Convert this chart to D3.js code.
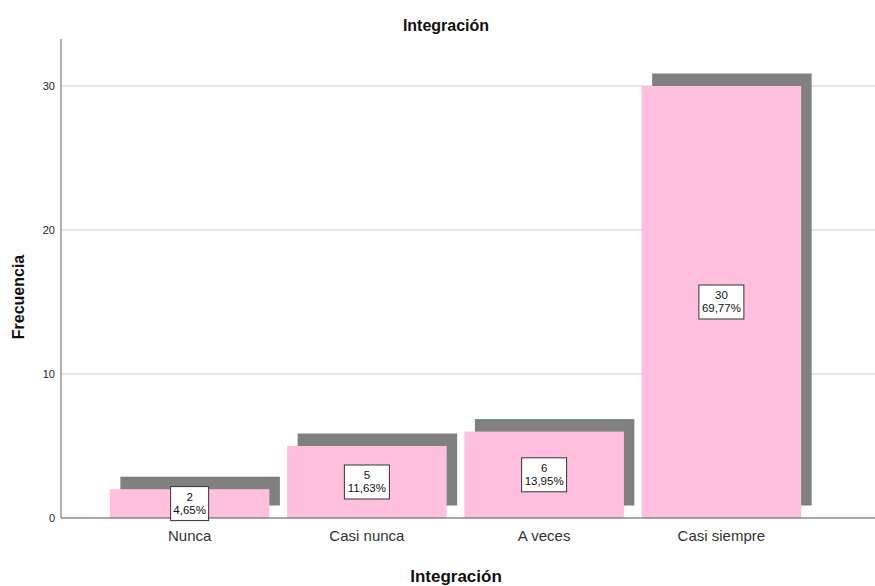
<!DOCTYPE html>
<html>
<head>
<meta charset="utf-8">
<script src="https://cdn.jsdelivr.net/npm/d3@7"></script>
<style>
  html, body { margin: 0; padding: 0; background: #fff; }
  svg { display: block; font-family: "Liberation Sans", Arial, sans-serif; }
</style>
</head>
<body>
<svg id="chart" width="875" height="586"></svg>
<script>
// Frequency of responses for "Integración"
const categories = ["Nunca", "Casi nunca", "A veces", "Casi siempre"];
const counts = [2, 5, 6, 30];
const percentLabels = ["4,65%", "11,63%", "13,95%", "69,77%"];
const yTicks = [0, 10, 20, 30];

const svg = d3.select("#chart");
const plot = { left: 61, right: 875, top: 39, bottom: 518 };

const x = d3.scaleBand()
  .domain(categories)
  .range([101, 810])
  .paddingInner(0.1)
  .paddingOuter(0.05);

const y = d3.scaleLinear()
  .domain([0, 30])
  .range([plot.bottom, 86]);

// gridlines
svg.append("g")
  .selectAll("line")
  .data(yTicks.filter(d => d > 0))
  .join("line")
  .attr("x1", plot.left)
  .attr("x2", plot.right)
  .attr("y1", d => y(d))
  .attr("y2", d => y(d))
  .attr("stroke", "#cfcfcf")
  .attr("stroke-width", 1.2);

// drop shadows behind the bars
const sdx = 10.5, sdy = -12.5;
svg.append("g")
  .selectAll("rect")
  .data(categories)
  .join("rect")
  .attr("x", d => x(d) + sdx)
  .attr("y", (d, i) => y(counts[i]) + sdy)
  .attr("width", x.bandwidth())
  .attr("height", (d, i) => y(0) - y(counts[i]))
  .attr("fill", "#808080");

// bars
svg.append("g")
  .selectAll("rect")
  .data(categories)
  .join("rect")
  .attr("x", d => x(d))
  .attr("y", (d, i) => y(counts[i]))
  .attr("width", x.bandwidth())
  .attr("height", (d, i) => y(0) - y(counts[i]))
  .attr("fill", "#ffc0e0");

// y axis
const yAxis = d3.axisLeft(y).tickValues(yTicks).tickSize(0).tickPadding(6);
const gy = svg.append("g").attr("transform", `translate(${plot.left},0)`).call(yAxis);
gy.select(".domain").remove();
gy.selectAll("text").attr("font-size", 11).attr("fill", "#222")
  .attr("font-family", "Liberation Sans, Arial, sans-serif");
svg.append("line")
  .attr("x1", plot.left).attr("x2", plot.left)
  .attr("y1", plot.top).attr("y2", plot.bottom)
  .attr("stroke", "#999").attr("stroke-width", 1.5);

// baseline
svg.append("line")
  .attr("x1", plot.left).attr("x2", plot.right)
  .attr("y1", plot.bottom).attr("y2", plot.bottom)
  .attr("stroke", "#555").attr("stroke-width", 1.2);

// x axis labels
const xAxis = d3.axisBottom(x).tickSize(0).tickPadding(12);
const gx = svg.append("g").attr("transform", `translate(0,${plot.bottom})`).call(xAxis);
gx.select(".domain").remove();
gx.selectAll("text").attr("font-size", 15).attr("fill", "#333")
  .attr("font-family", "Liberation Sans, Arial, sans-serif");

// value labels
const lab = svg.append("g")
  .selectAll("g")
  .data(categories)
  .join("g")
  .attr("transform", (d, i) => `translate(${x(d) + x.bandwidth() / 2},${y(counts[i] / 2)})`);

lab.each(function(d, i) {
  const g = d3.select(this);
  const w = percentLabels[i].length > 5 ? 45 : 38;
  g.append("rect")
    .attr("x", -w / 2).attr("y", -17)
    .attr("width", w).attr("height", 34)
    .attr("fill", "#fff").attr("stroke", "#333").attr("stroke-width", 1);
  g.append("text")
    .attr("text-anchor", "middle").attr("y", -3)
    .attr("font-size", 11.5).attr("fill", "#111")
    .text(counts[i]);
  g.append("text")
    .attr("text-anchor", "middle").attr("y", 10)
    .attr("font-size", 11.5).attr("fill", "#111")
    .text(percentLabels[i]);
});

// titles
svg.append("text")
  .attr("x", 446).attr("y", 31)
  .attr("text-anchor", "middle")
  .attr("font-size", 16).attr("font-weight", "bold").attr("fill", "#111")
  .text("Integración");

svg.append("text")
  .attr("x", 456).attr("y", 582)
  .attr("text-anchor", "middle")
  .attr("font-size", 17).attr("font-weight", "bold").attr("fill", "#111")
  .text("Integración");

svg.append("text")
  .attr("transform", "translate(24,297) rotate(-90)")
  .attr("text-anchor", "middle")
  .attr("font-size", 16).attr("font-weight", "bold").attr("fill", "#111")
  .text("Frecuencia");
</script>
</body>
</html>
